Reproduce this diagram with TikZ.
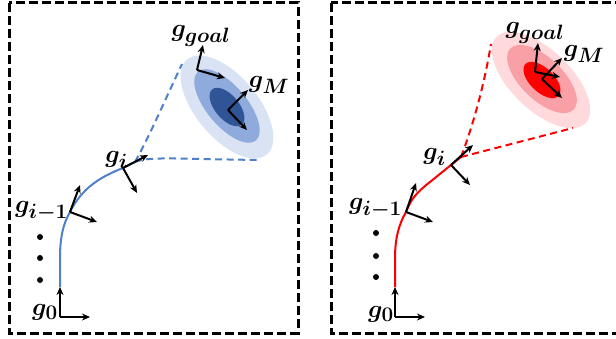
\documentclass[tikz,border=0pt]{standalone}
\usepackage{amsmath}
\usetikzlibrary{arrows.meta}
\DeclareMathSizes{27}{27}{20}{16}
\definecolor{curveblue}{HTML}{4F81C8}
\definecolor{bluea}{HTML}{DAE3F3}
\definecolor{blueb}{HTML}{8FAADC}
\definecolor{bluec}{HTML}{2F5597}
\definecolor{curvered}{HTML}{FF0000}
\definecolor{reda}{HTML}{FFD9DB}
\definecolor{redb}{HTML}{F9A0A6}
\definecolor{redc}{HTML}{FF0000}
\begin{document}
\begin{tikzpicture}[x=1pt,y=-1pt,
  panel/.style={draw=black,line width=3pt,dash pattern=on 9pt off 4pt},
  axis/.style={draw=black,line width=2pt,-{Stealth[length=8pt,width=7pt]}},
  lbl/.style={inner sep=0pt,font=\fontsize{27}{31}\selectfont\boldmath},
  traj/.style={line width=2pt},
  plan/.style={line width=2pt,dash pattern=on 7pt off 4.5pt},
  dotm/.style={circle,fill=black,inner sep=0pt,minimum size=6pt}]
\useasboundingbox (0,0) rectangle (616,339);

% ---------------- left panel ----------------
\draw[panel] (9,3) rectangle (298,333);

% ellipses
\fill[bluea] (227,107) ellipse [x radius=62, y radius=31, rotate=-50];
\fill[blueb] (227,106) ellipse [x radius=45, y radius=20, rotate=-50];
\fill[bluec] (227,107) ellipse [x radius=23, y radius=12, rotate=-50];

% frame coordinates
\coordinate (L0) at (60,317);
\coordinate (L0u) at (60,287);
\coordinate (L0r) at (90,317);
\coordinate (L1) at (70,212);
\coordinate (L1u) at (80,185);
\coordinate (L1r) at (97,222);
\coordinate (Li) at (123,168);
\coordinate (Liu) at (148,155);
\coordinate (Lir) at (137,193);
\coordinate (LG) at (197,70);
\coordinate (LGu) at (203,45);
\coordinate (LGr) at (225,78);
\coordinate (LM) at (228,110);
\coordinate (LMu) at (248,90);
\coordinate (LMr) at (247,130);
\coordinate (Lend) at (135,162);
\coordinate (Lup) at (182,64);
\coordinate (Llo) at (257,160);

% trajectory
\draw[traj,curveblue] (L0u) -- (60,258) .. controls (60,238) and (63,224) .. (L1)
   .. controls (82,188) and (100,177) .. (Li) -- (Lend);
\draw[plan,curveblue] (Lend) .. controls (150,135) and (165,100) .. (Lup);
\draw[plan,curveblue] (Lend) .. controls (145,158) and (160,158) .. (200,159) -- (Llo);

% dots
\node[dotm] (Ld1) at (40,237) {};
\node[dotm] (Ld2) at (40,258) {};
\node[dotm] (Ld3) at (40,280) {};

% frames
\draw[axis] (L0) -- (L0u);
\draw[axis] (L0) -- (L0r);
\draw[axis] (L1) -- (L1u);
\draw[axis] (L1) -- (L1r);
\draw[axis] (Li) -- (Liu);
\draw[axis] (Li) -- (Lir);
\draw[axis] (LG) -- (LGu);
\draw[axis] (LG) -- (LGr);
\draw[axis] (LM) -- (LMu);
\draw[axis] (LM) -- (LMr);

% labels
\node[lbl,anchor=base east] (Lt0) at (58,315) {$g_0$};
\node[lbl,anchor=base east] (Lt1) at (68,213) {$g_{i-1}$};
\node[lbl,anchor=base east] (Lti) at (128,163) {$g_i$};
\node[lbl,anchor=base] (LtG) at (201,37) {$g_{goal}$};
\node[lbl,anchor=base] (LtM) at (269,88) {$g_M$};

% ---------------- right panel ----------------
\draw[panel] (331,3) rectangle (622,333);

\fill[reda] (541,80) ellipse [x radius=62, y radius=30, rotate=-44];
\fill[redb] (542,79) ellipse [x radius=44, y radius=21, rotate=-44];
\fill[redc] (542,80) ellipse [x radius=23, y radius=12, rotate=-44];

\coordinate (R0) at (395,317);
\coordinate (R0u) at (395,287);
\coordinate (R0r) at (425,317);
\coordinate (R1) at (406,212);
\coordinate (R1u) at (416,183);
\coordinate (R1r) at (433,222);
\coordinate (Ri) at (451,165);
\coordinate (Riu) at (473,145);
\coordinate (Rir) at (470,185);
\coordinate (RG) at (535,72);
\coordinate (RGu) at (538,43);
\coordinate (RGr) at (560,77);
\coordinate (RM) at (542,79);
\coordinate (RMu) at (562,58);
\coordinate (RMr) at (562,98);
\coordinate (Rend) at (461,157);
\coordinate (Rup) at (491,44);
\coordinate (Rlo) at (573,128);

\draw[traj,curvered] (R0u) -- (395,258) .. controls (395,238) and (399,224) .. (R1)
   .. controls (411,199) and (417,192) .. (430,182) -- (Ri) -- (Rend);
\draw[plan,curvered] (Rend) .. controls (475,120) and (485,80) .. (Rup);
\draw[plan,curvered] (Rend) -- (Rlo);

\node[dotm] (Rd1) at (376,233) {};
\node[dotm] (Rd2) at (376,256) {};
\node[dotm] (Rd3) at (376,277) {};

\draw[axis] (R0) -- (R0u);
\draw[axis] (R0) -- (R0r);
\draw[axis] (R1) -- (R1u);
\draw[axis] (R1) -- (R1r);
\draw[axis] (Ri) -- (Riu);
\draw[axis] (Ri) -- (Rir);
\draw[axis] (RG) -- (RGu);
\draw[axis] (RG) -- (RGr);
\draw[axis] (RM) -- (RMu);
\draw[axis] (RM) -- (RMr);

\node[lbl,anchor=base east] (Rt0) at (394,317) {$g_0$};
\node[lbl,anchor=base east] (Rt1) at (402,210) {$g_{i-1}$};
\node[lbl,anchor=base east] (Rti) at (446,160) {$g_i$};
\node[lbl,anchor=base] (RtG) at (535,34) {$g_{goal}$};
\node[lbl,anchor=base] (RtM) at (584,57) {$g_M$};
\end{tikzpicture}
\end{document}
